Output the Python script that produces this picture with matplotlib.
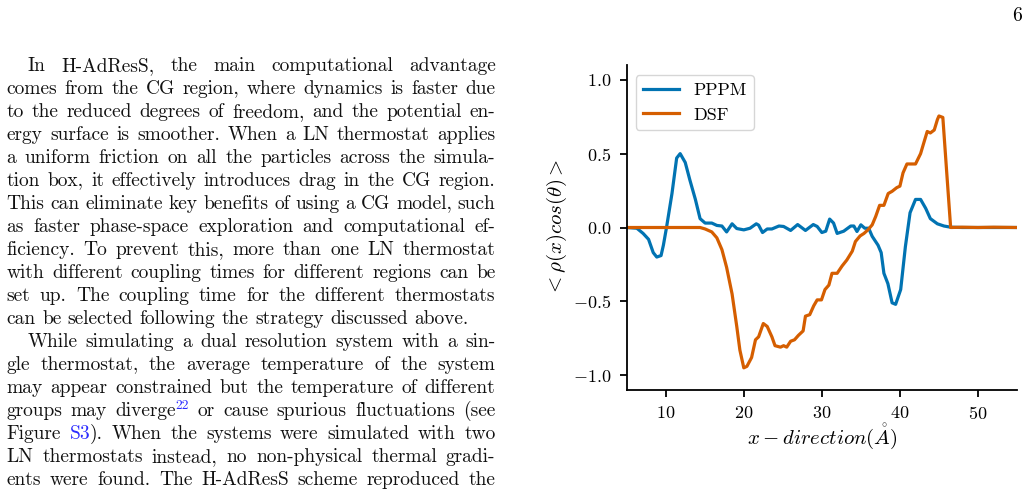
import re
import matplotlib
matplotlib.use('Agg')
import matplotlib.pyplot as plt

plt.rcParams['font.family'] = 'cmr10'
plt.rcParams['mathtext.fontset'] = 'cm'
plt.rcParams['axes.formatter.use_mathtext'] = True

# PPPM curve
pppm_x = [5.0, 6.3, 7.1, 7.8, 8.4, 8.85, 9.4, 9.7, 10.1, 10.8, 11.4, 11.85, 12.5, 13.1,
          13.8, 14.4, 15.05, 15.9, 16.55, 17.2, 17.8, 18.5, 19.1, 20.0, 20.8, 21.6, 21.9,
          22.4, 23.0, 23.6, 24.5, 25.1, 26.0, 26.9, 27.9, 28.9, 29.4, 30.0, 30.5, 31.0,
          31.5, 31.96, 32.8, 33.7, 34.1, 34.5, 35.0, 35.5, 36.0, 36.45, 37.2, 37.6, 37.95,
          38.46, 39.0, 39.45, 40.1, 40.7, 41.3, 42.0, 42.65, 43.3, 43.9, 44.8, 45.65, 46.5,
          48.0, 50.0, 52.0, 55.0]
pppm_y = [0.0, -0.005, -0.04, -0.08, -0.17, -0.2, -0.19, -0.12, 0.0, 0.23, 0.47, 0.5, 0.44,
          0.32, 0.19, 0.06, 0.03, 0.03, 0.014, 0.01, -0.03, 0.025, -0.007, -0.016, -0.005,
          0.025, 0.016, -0.034, -0.01, -0.01, 0.01, 0.007, -0.02, 0.02, -0.02, 0.02, 0.007,
          -0.034, -0.025, 0.057, 0.03, -0.04, -0.025, 0.01, 0.01, -0.027, 0.018, -0.005,
          -0.005, -0.06, -0.12, -0.17, -0.31, -0.38, -0.51, -0.52, -0.42, -0.13, 0.1, 0.19,
          0.19, 0.13, 0.06, 0.025, 0.01, 0.002, 0.0, 0.0, 0.0, 0.0]

# DSF curve
dsf_x = [5.0, 10.0, 14.4, 15.05, 15.9, 16.55, 17.2, 17.8, 18.5, 19.1, 19.5, 20.0, 20.4, 21.0,
         21.5, 21.9, 22.5, 23.0, 23.6, 24.0, 24.7, 25.1, 25.5, 26.0, 26.5, 27.0, 27.6, 27.9,
         28.45, 28.96, 29.4, 29.95, 30.4, 30.9, 31.3, 31.96, 32.6, 33.2, 33.9, 34.3, 34.9,
         35.4, 35.9, 36.45, 36.9, 37.4, 37.95, 38.5, 39.0, 39.6, 40.0, 40.4, 40.9, 41.5,
         42.0, 42.65, 43.1, 43.5, 43.9, 44.4, 44.8, 45.0, 45.5, 46.0, 46.5, 48.0, 50.0, 52.0,
         55.0]
dsf_y = [0.0, 0.0, 0.0, -0.01, -0.03, -0.07, -0.15, -0.27, -0.45, -0.67, -0.83, -0.95, -0.94,
         -0.88, -0.76, -0.74, -0.65, -0.67, -0.74, -0.8, -0.81, -0.8, -0.81, -0.77, -0.76,
         -0.73, -0.7, -0.6, -0.59, -0.53, -0.49, -0.49, -0.42, -0.39, -0.31, -0.31, -0.26,
         -0.22, -0.16, -0.095, -0.057, -0.04, -0.016, 0.018, 0.075, 0.15, 0.15, 0.23, 0.245,
         0.27, 0.28, 0.37, 0.43, 0.43, 0.43, 0.5, 0.58, 0.65, 0.64, 0.66, 0.73, 0.755, 0.745,
         0.37, 0.0, 0.002, 0.0, 0.002, 0.0]

x_ticks = [10, 20, 30, 40, 50]
y_ticks = [-1.0, -0.5, 0.0, 0.5, 1.0]

# page text; [..] = blue superscript, {..} = blue link
text_lines = [
    "In H-AdResS, the main computational advantage",
    "comes from the CG region, where dynamics is faster due",
    "to the reduced degrees of freedom, and the potential en-",
    "ergy surface is smoother. When a LN thermostat applies",
    "a uniform friction on all the particles across the simula-",
    "tion box, it effectively introduces drag in the CG region.",
    "This can eliminate key benefits of using a CG model, such",
    "as faster phase-space exploration and computational ef-",
    "ficiency. To prevent this, more than one LN thermostat",
    "with different coupling times for different regions can be",
    "set up. The coupling time for the different thermostats",
    "can be selected following the strategy discussed above.",
    "While simulating a dual resolution system with a sin-",
    "gle thermostat, the average temperature of the system",
    "may appear constrained but the temperature of different",
    "groups may diverge[22] or cause spurious fluctuations (see",
    "Figure {S3}). When the systems were simulated with two",
    "LN thermostats instead, no non-physical thermal gradi-",
    "ents were found. The H-AdResS scheme reproduced the",
]
indented = [0, 12]
para_ends = [11]

W, H = 1028, 493
fig = plt.figure(figsize=(W / 100, H / 100), dpi=100)

ax = fig.add_axes([626.7 / W, 1 - 390 / H, (1017 - 626.7) / W, (390 - 65) / H])
ax.plot(pppm_x, pppm_y, color='#0173b2', lw=2.3, label='PPPM')
ax.plot(dsf_x, dsf_y, color='#d55e00', lw=2.3, label='DSF')
ax.set_xlim(5, 55)
ax.set_ylim(-1.1, 1.1)
ax.set_xticks(x_ticks)
ax.set_yticks(y_ticks)
for s in ['top', 'right']:
    ax.spines[s].set_visible(False)
for s in ['left', 'bottom']:
    ax.spines[s].set_linewidth(1.3)
ax.tick_params(labelsize=13, length=5, width=1.3, pad=6)
ax.set_xlabel(r'$x-direction(\mathring{A})$', fontsize=15, labelpad=0)
ax.set_ylabel(r'$<\rho(x)cos(\theta)>$', fontsize=15, labelpad=3)
ax.legend(loc='upper left', fontsize=13, borderaxespad=0,
          bbox_to_anchor=(9 / 390, 1 - 10 / 325))

# page number
fig.text(1022 / W, 1 - 21 / H, '6', fontsize=14, ha='right', va='baseline')

# justified paragraph text
renderer = fig.canvas.get_renderer()
x0, col_w, indent = 6.5, 489.0, 21.0
fs = 14
blue = '#2b2bff'

for i, line in enumerate(text_lines):
    yb = 1 - (71 + i * 23.0) / H
    words = []
    for w in line.split():
        arts = []
        for p in re.split(r'(\[[^\]]*\]|\{[^}]*\})', w):
            if not p:
                continue
            if p.startswith('['):
                t = fig.text(0, yb + 7 / H, p[1:-1], fontsize=fs * 0.7, color=blue, va='baseline')
            elif p.startswith('{'):
                t = fig.text(0, yb, p[1:-1], fontsize=fs, color=blue, va='baseline')
            else:
                t = fig.text(0, yb, p, fontsize=fs, color='#111111', va='baseline')
            arts.append((t, t.get_window_extent(renderer).width))
        words.append(arts)
    start = x0 + (indent if i in indented else 0)
    total = sum(wd for arts in words for _, wd in arts)
    if i in para_ends:
        gap = 0.333 * fs * 100 / 72
    else:
        gap = max((x0 + col_w - start - total) / (len(words) - 1), 2)
    x = start
    for arts in words:
        for t, wd in arts:
            t.set_x(x / W)
            x += wd
        x += gap

fig.savefig('out.png', dpi=100)
